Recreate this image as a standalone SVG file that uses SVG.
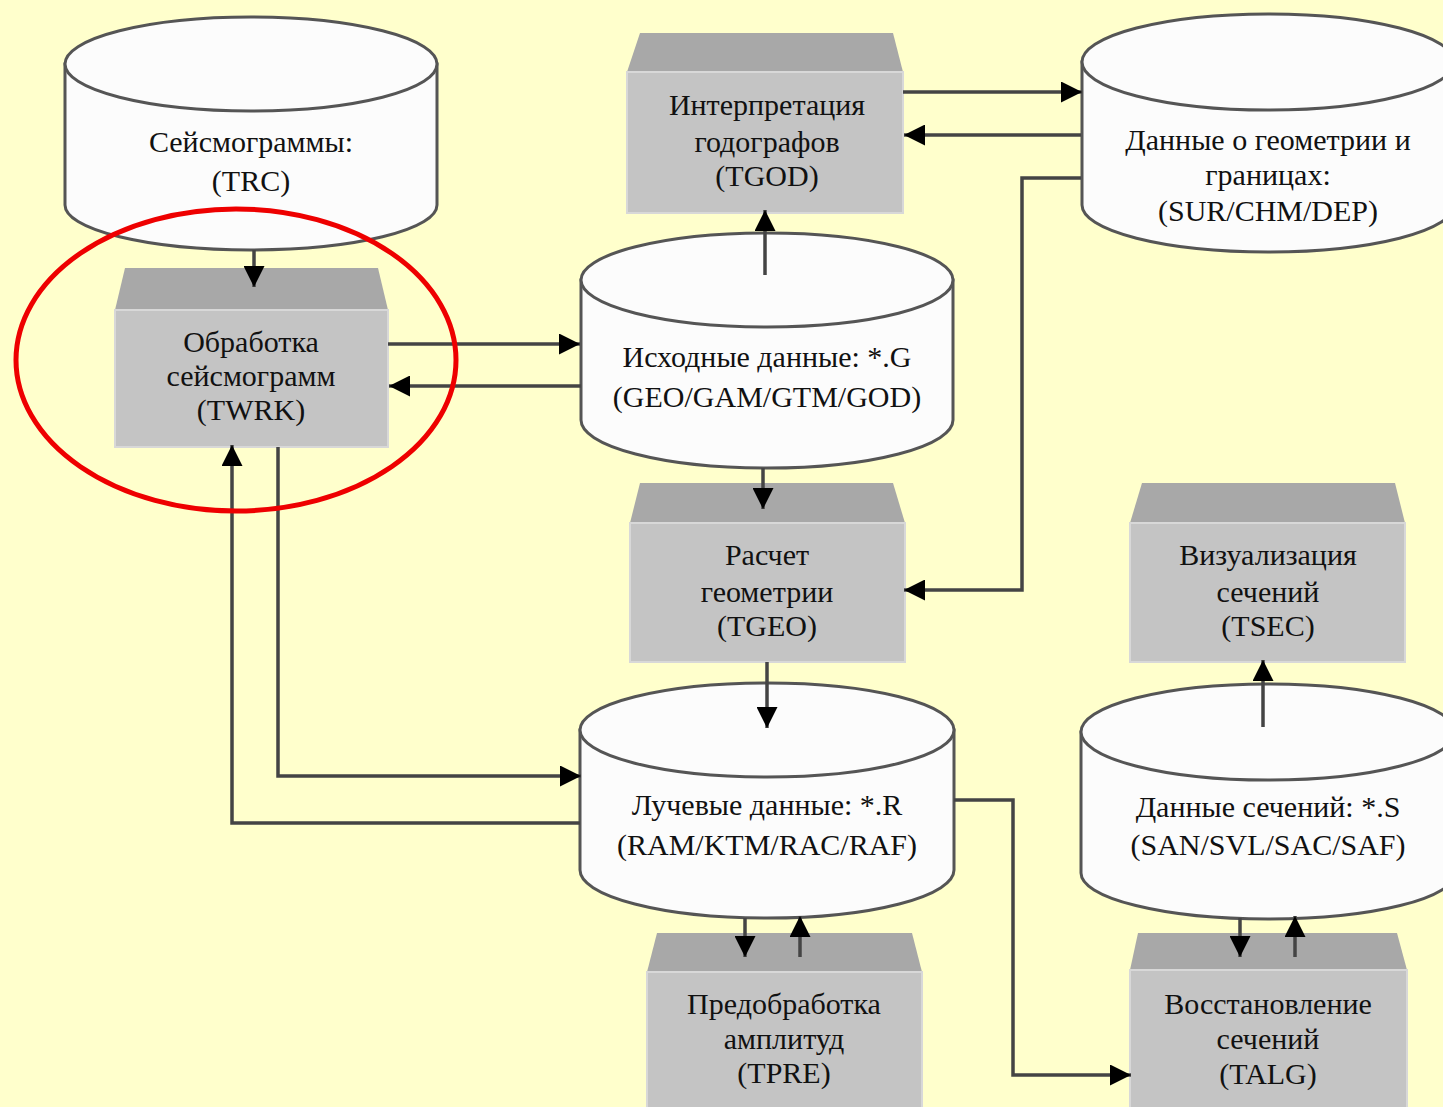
<svg xmlns="http://www.w3.org/2000/svg" width="1443" height="1107" viewBox="0 0 1443 1107">
<defs>
<style>
.bg{fill:#FFFFCC}
.cyl{fill:#FCFCFC;stroke:#555;stroke-width:3}
.band{fill:#A8A8A8}
.body{fill:#C4C4C4;stroke:#D8D8D8;stroke-width:2}
.t{font-family:"Liberation Serif","Times New Roman",serif;font-size:30px;fill:#111;text-anchor:middle}
.c{fill:none;stroke:#444;stroke-width:3.5}
</style>
<marker id="ah" viewBox="0 0 10 10" refX="10" refY="5" markerWidth="6" markerHeight="6" markerUnits="strokeWidth" orient="auto">
<path d="M0,0 L10,5 L0,10 Z" fill="#000"/>
</marker>
</defs>
<rect class="bg" x="0" y="0" width="1443" height="1107"/>

<g id="cyl-trc">
<path class="cyl" d="M65,64 L65,205 A186,45 0 0 0 437,205 L437,64 Z"/>
<ellipse class="cyl" cx="251" cy="64" rx="186" ry="47"/>
<text class="t" x="251" y="152">Сейсмограммы:</text>
<text class="t" x="251" y="191">(TRC)</text>
</g>

<g id="box-twrk">
<polygon class="band" points="125,268 378,268 388,310 115,310"/>
<rect class="body" x="115" y="310" width="273" height="137"/>
<text class="t" x="251" y="352">Обработка</text>
<text class="t" x="251" y="386">сейсмограмм</text>
<text class="t" x="251" y="420">(TWRK)</text>
</g>

<g id="box-tgod">
<polygon class="band" points="640,33 893,33 903,72 627,72"/>
<rect class="body" x="627" y="72" width="276" height="141"/>
<text class="t" x="767" y="115">Интерпретация</text>
<text class="t" x="767" y="152">годографов</text>
<text class="t" x="767" y="186">(TGOD)</text>
</g>

<g id="cyl-sur">
<path class="cyl" d="M1082,62 L1082,205 A186,47 0 0 0 1454,205 L1454,62 Z"/>
<ellipse class="cyl" cx="1268" cy="62" rx="186" ry="48"/>
<text class="t" x="1268" y="150">Данные о геометрии и</text>
<text class="t" x="1268" y="185">границах:</text>
<text class="t" x="1268" y="221">(SUR/CHM/DEP)</text>
</g>

<g id="cyl-g">
<path class="cyl" d="M581,280 L581,420 A186,48 0 0 0 953,420 L953,280 Z"/>
<ellipse class="cyl" cx="767" cy="280" rx="186" ry="47"/>
<text class="t" x="767" y="367">Исходные данные: *.G</text>
<text class="t" x="767" y="407">(GEO/GAM/GTM/GOD)</text>
</g>

<g id="box-tgeo">
<polygon class="band" points="640,483 893,483 905,523 630,523"/>
<rect class="body" x="630" y="523" width="275" height="139"/>
<text class="t" x="767" y="565">Расчет</text>
<text class="t" x="767" y="602">геометрии</text>
<text class="t" x="767" y="636">(TGEO)</text>
</g>

<g id="box-tsec">
<polygon class="band" points="1142,483 1395,483 1405,523 1130,523"/>
<rect class="body" x="1130" y="523" width="275" height="139"/>
<text class="t" x="1268" y="565">Визуализация</text>
<text class="t" x="1268" y="602">сечений</text>
<text class="t" x="1268" y="636">(TSEC)</text>
</g>

<g id="cyl-r">
<path class="cyl" d="M580,730 L580,870 A187,48 0 0 0 954,870 L954,730 Z"/>
<ellipse class="cyl" cx="767" cy="730" rx="187" ry="47"/>
<text class="t" x="767" y="815">Лучевые данные: *.R</text>
<text class="t" x="767" y="855">(RAM/KTM/RAC/RAF)</text>
</g>

<g id="cyl-s">
<path class="cyl" d="M1081,732 L1081,873 A187,46 0 0 0 1455,873 L1455,732 Z"/>
<ellipse class="cyl" cx="1268" cy="732" rx="187" ry="48"/>
<text class="t" x="1268" y="817">Данные сечений: *.S</text>
<text class="t" x="1268" y="855">(SAN/SVL/SAC/SAF)</text>
</g>

<g id="box-tpre">
<polygon class="band" points="657,933 912,933 922,972 647,972"/>
<rect class="body" x="647" y="972" width="275" height="140"/>
<text class="t" x="784" y="1014">Предобработка</text>
<text class="t" x="784" y="1049">амплитуд</text>
<text class="t" x="784" y="1083">(TPRE)</text>
</g>

<g id="box-talg">
<polygon class="band" points="1138,933 1397,933 1407,970 1130,970"/>
<rect class="body" x="1130" y="970" width="277" height="142"/>
<text class="t" x="1268" y="1014">Восстановление</text>
<text class="t" x="1268" y="1049">сечений</text>
<text class="t" x="1268" y="1084">(TALG)</text>
</g>

<g id="connectors">
<path class="c" marker-end="url(#ah)" d="M254,250 L254,287"/>
<path class="c" marker-end="url(#ah)" d="M388,344 L580,344"/>
<path class="c" marker-end="url(#ah)" d="M581,386 L389,386"/>
<path class="c" marker-end="url(#ah)" d="M765,275 L765,210"/>
<path class="c" marker-end="url(#ah)" d="M903,92 L1082,92"/>
<path class="c" marker-end="url(#ah)" d="M1081,135 L904,135"/>
<path class="c" marker-end="url(#ah)" d="M1081,178 L1022,178 L1022,590 L904,590"/>
<path class="c" marker-end="url(#ah)" d="M763,468 L763,509"/>
<path class="c" marker-end="url(#ah)" d="M767,662 L767,728"/>
<path class="c" marker-end="url(#ah)" d="M278,447 L278,776 L581,776"/>
<path class="c" marker-end="url(#ah)" d="M580,823 L232,823 L232,445"/>
<path class="c" marker-end="url(#ah)" d="M745,918 L745,957"/>
<path class="c" marker-end="url(#ah)" d="M800,957 L800,916"/>
<path class="c" marker-end="url(#ah)" d="M954,800 L1013,800 L1013,1075 L1131,1075"/>
<path class="c" marker-end="url(#ah)" d="M1263,727 L1263,660"/>
<path class="c" marker-end="url(#ah)" d="M1240,918 L1240,957"/>
<path class="c" marker-end="url(#ah)" d="M1295,957 L1295,916"/>
</g>

<ellipse id="highlight" cx="236" cy="360" rx="220" ry="151" fill="none" stroke="#EE0000" stroke-width="5"/>
</svg>
